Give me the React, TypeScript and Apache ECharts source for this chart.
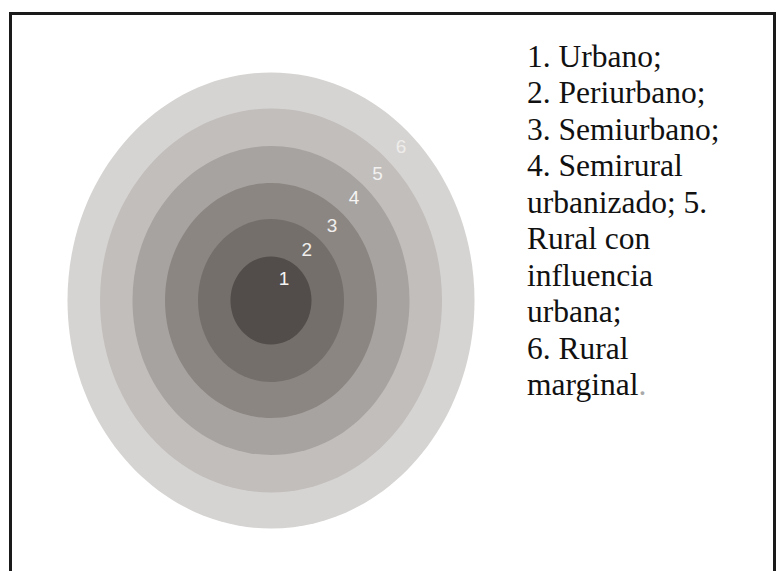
import React, { useEffect, useRef } from "react";
import * as echarts from "echarts";

// Ring semi-axes (data units, centre at 0,0), innermost first
const ringNames = ["1", "2", "3", "4", "5", "6"];
const ringRx = [40.5, 73, 106, 138.5, 171, 203.5];
const ringRy = [44, 81.5, 117.5, 154.5, 192, 228];
const ringColors = ["#524d4a", "#756f6b", "#8c8682", "#a7a3a0", "#c1bebc", "#d6d4d2"];
const labelColors = ["#f6f5f4", "#f0efee", "#f0efee", "#f6f5f4", "#f2f1f0", "#eeecea"];

// Number label positions (data units)
const labelX = [13, 35.7, 61, 83, 106.5, 130];
const labelY = [22.5, 51.5, 75.5, 103.5, 127, 154.5];

const legendLines = [
  "1. Urbano;",
  "2. Periurbano;",
  "3. Semiurbano;",
  "4. Semirural",
  "urbanizado; 5.",
  "Rural con",
  "influencia",
  "urbana;",
  "6. Rural",
  "marginal.",
];

export default function App() {
  const ref = useRef<HTMLDivElement>(null);
  useEffect(() => {
    if (!ref.current) return;
    const chart = echarts.init(ref.current, null, { renderer: "svg" });

    const ringData = ringNames
      .map((n, i) => ({ name: n, value: [ringRx[i], ringRy[i], i] }))
      .reverse();
    const labelData = ringNames.map((n, i) => ({ name: n, value: [labelX[i], labelY[i]] }));

    const serif = "Liberation Serif";
    const lineH = 36.5;
    const firstCenter = 56.4;
    const legendGraphics: any[] = legendLines.map((line, i) => {
      const isLast = i === legendLines.length - 1;
      const txt = isLast ? line.replace(/\.$/, "") + "{g|.}" : line;
      const style: any = {
        text: txt,
        fill: "#111111",
        fontFamily: serif,
        fontSize: 31.5,
        align: "left",
        verticalAlign: "middle",
      };
      if (isLast) style.rich = { g: { fill: "#a9a9a9", fontFamily: serif, fontSize: 31.5 } };
      return {
        type: "text",
        x: 527,
        y: firstCenter + i * lineH,
        silent: true,
        style,
      };
    });

    chart.setOption({
      animation: false,
      backgroundColor: "#ffffff",
      grid: { left: 0, right: 0, top: 0, bottom: 0 },
      xAxis: { type: "value", min: -271, max: 510, show: false },
      yAxis: { type: "value", min: -270.5, max: 300.5, show: false },
      graphic: [
        {
          type: "rect",
          silent: true,
          z: 100,
          shape: { x: 10.5, y: 13.5, width: 764, height: 620 },
          style: { fill: "none", stroke: "#1a1a1a", lineWidth: 3 },
        },
        ...legendGraphics,
      ],
      series: [
        {
          type: "custom",
          clip: false,
          silent: true,
          data: ringData,
          renderItem: (params: any, api: any) => {
            const rx = api.value(0);
            const ry = api.value(1);
            const ci = api.value(2);
            const c = api.coord([0, 0]);
            const e = api.coord([rx, ry]);
            return {
              type: "ellipse",
              shape: { cx: c[0], cy: c[1], rx: Math.abs(e[0] - c[0]), ry: Math.abs(c[1] - e[1]) },
              style: { fill: ringColors[ci], stroke: "none" },
            };
          },
        },
        {
          type: "custom",
          clip: false,
          silent: true,
          z: 5,
          data: labelData,
          renderItem: (params: any, api: any) => {
            const p = api.coord([api.value(0), api.value(1)]);
            return {
              type: "text",
              x: p[0],
              y: p[1],
              style: {
                text: ringNames[params.dataIndex],
                fill: labelColors[params.dataIndex],
                fontFamily: "Liberation Sans",
                fontSize: 19,
                align: "center",
                verticalAlign: "middle",
              },
            };
          },
        },
      ],
    });
    return () => chart.dispose();
  }, []);
  return (
    <div
      ref={ref}
      style={{ position: "absolute", left: 0, top: 0, width: 781, height: 571, background: "#fff" }}
    />
  );
}
